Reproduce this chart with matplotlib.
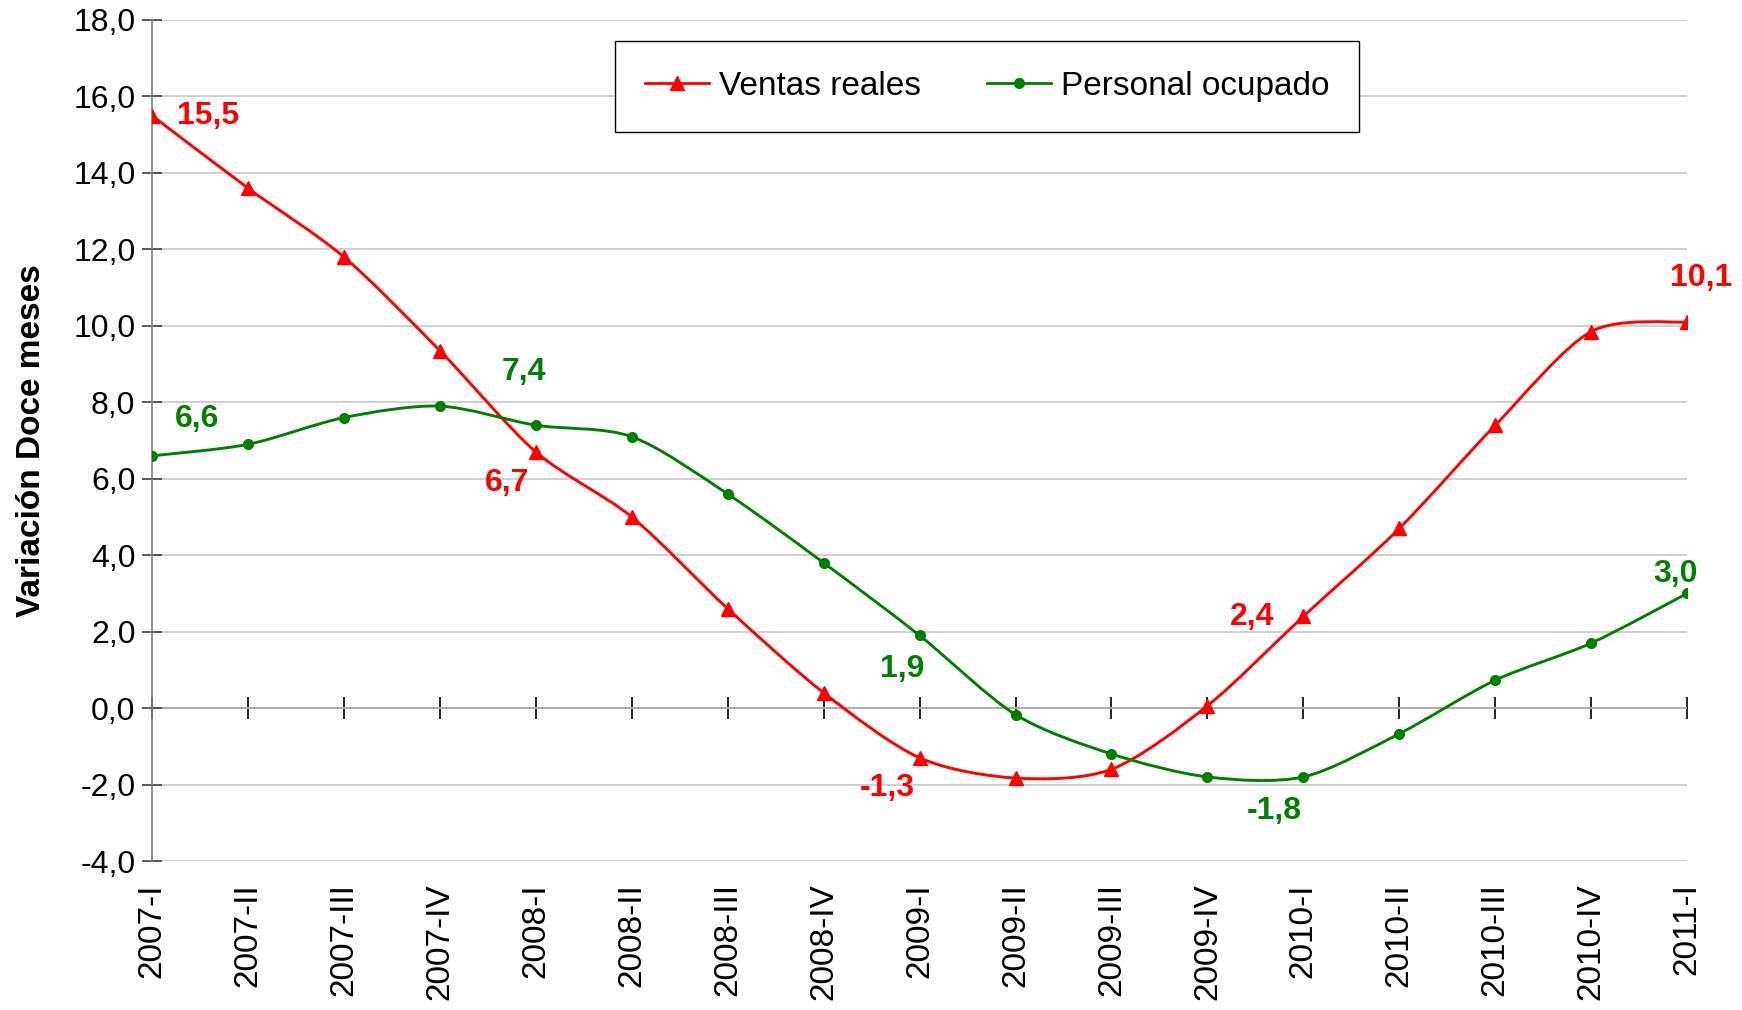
import matplotlib
matplotlib.use('Agg')
from matplotlib import pyplot as plt
from matplotlib.path import Path
from matplotlib.patches import PathPatch
from matplotlib.lines import Line2D
import numpy as np

plt.rcParams['font.family'] = ['Liberation Sans', 'DejaVu Sans']

quarters = ['2007-I', '2007-II', '2007-III', '2007-IV',
            '2008-I', '2008-II', '2008-III', '2008-IV',
            '2009-I', '2009-II', '2009-III', '2009-IV',
            '2010-I', '2010-II', '2010-III', '2010-IV', '2011-I']

ventas = [15.5, 13.6, 11.8, 9.35, 6.7, 5.0, 2.6, 0.4,
          -1.3, -1.83, -1.6, 0.06, 2.4, 4.7, 7.4, 9.85, 10.1]
personal = [6.6, 6.9, 7.6, 7.9, 7.4, 7.1, 5.6, 3.8,
            1.9, -0.17, -1.2, -1.8, -1.8, -0.67, 0.73, 1.7, 3.0]

# labelled points: (index, text, offset in pixels (dx, dy up))
ventas_labels = [(0, '15,5', (56, 0)), (4, '6,7', (-29, -31)), (8, '-1,3', (-32, -30)),
                 (12, '2,4', (-51, -1)), (16, '10,1', (14, 44))]
personal_labels = [(0, '6,6', (45, 37)), (4, '7,4', (-12, 53)), (8, '1,9', (-17, -34)),
                   (12, '-1,8', (-29, -34)), (16, '3,0', (-12, 19))]

RED = '#ff0000'
GREEN = '#008000'


def smooth_path(xs, ys, k=7):
    # Catmull-Rom style curve through the points, as cubic bezier segments
    pts = np.column_stack([xs, ys]).astype(float)
    n = len(pts)
    verts = [pts[0]]
    codes = [Path.MOVETO]
    for i in range(n - 1):
        p0 = pts[max(i - 1, 0)]
        p1 = pts[i]
        p2 = pts[i + 1]
        p3 = pts[min(i + 2, n - 1)]
        c1 = p1 + (p2 - p0) / k
        c2 = p2 - (p3 - p1) / k
        verts += [c1, c2, p2]
        codes += [Path.CURVE4] * 3
    return Path(verts, codes)


fig = plt.figure(figsize=(17.42, 10.10), dpi=100)
ax = fig.add_axes([0.0873, 0.1475, 0.8812, 0.8327])

x = np.arange(len(quarters))

for vals, col, mk, ms in [(ventas, RED, '^', 10), (personal, GREEN, 'o', 7)]:
    ax.add_patch(PathPatch(smooth_path(x, vals), facecolor='none', edgecolor=col,
                           lw=2.1, zorder=3))
    ax.plot(x, vals, linestyle='none', marker=mk, color=col, markersize=ms, zorder=4)

for vals, labs, col in [(ventas, ventas_labels, RED), (personal, personal_labels, GREEN)]:
    for i, txt, (dx, dy) in labs:
        ax.annotate(txt, xy=(i, vals[i]), xytext=(dx * 0.72, dy * 0.72),
                    textcoords='offset points', ha='center', va='center',
                    color=col, fontsize=23, fontweight='bold', zorder=5)

ax.set_xlim(0, 16)
ax.set_ylim(-4, 18)
ax.set_yticks(np.arange(-4, 18.1, 2))
ax.yaxis.set_major_formatter(plt.FuncFormatter(lambda v, p: f'{v:.1f}'.replace('.', ',')))
ax.grid(axis='y', color='#c8c8c8', lw=1.2)
ax.set_axisbelow(True)

for s in ['top', 'right', 'bottom']:
    ax.spines[s].set_visible(False)
ax.spines['left'].set_color('#808080')
ax.spines['left'].set_linewidth(1.2)

ax.set_xticks(x)
ax.set_xticklabels(quarters, rotation=90, fontsize=24)
ax.tick_params(axis='x', length=0, pad=16)
ax.tick_params(axis='y', direction='inout', length=14, width=1.2, color='#404040',
               labelsize=23, pad=5)

# x axis drawn at zero with crossing ticks
zero = ax.secondary_xaxis(4 / 22)
zero.set_xticks(x)
zero.tick_params(direction='inout', length=16, width=1.2, labelbottom=False,
                 labeltop=False, color='black')
zero.spines['bottom'].set_color('black')
zero.spines['bottom'].set_linewidth(1.2)

ax.set_ylabel('Variación Doce meses', fontsize=24, fontweight='bold', labelpad=19)

handles = [Line2D([], [], color=RED, marker='^', lw=2, markersize=10),
           Line2D([], [], color=GREEN, marker='o', lw=2, markersize=7)]
leg = ax.legend(handles, ['Ventas reales', 'Personal ocupado'], ncol=2,
                loc='center', bbox_to_anchor=(0.544, 0.921),
                prop={'family': ['Liberation Sans Narrow', 'Liberation Sans'], 'size': 24},
                frameon=True, fancybox=False, edgecolor='black', framealpha=1,
                borderpad=0.9, handlelength=1.9, columnspacing=2.0, handletextpad=0.3)
leg.get_frame().set_linewidth(1.0)

fig.savefig('out.png', dpi=100)
